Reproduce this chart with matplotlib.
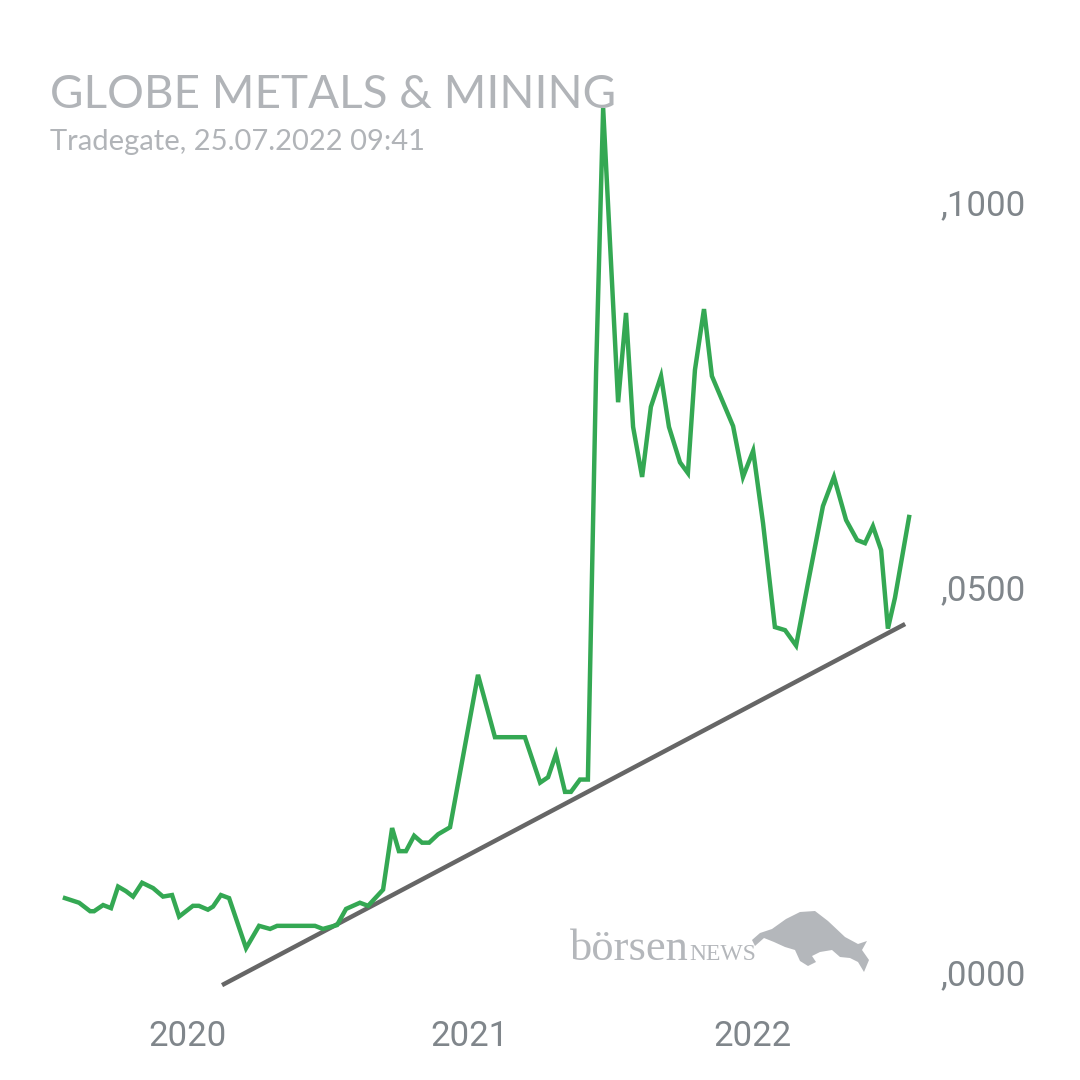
import matplotlib
matplotlib.use("Agg")
import matplotlib.pyplot as plt
from matplotlib.patches import Polygon
from matplotlib.transforms import offset_copy

# price history (decimal year, EUR)
dates = [2019.568, 2019.618, 2019.657, 2019.671, 2019.703, 2019.731, 2019.756, 2019.784,
         2019.809, 2019.841, 2019.880, 2019.915, 2019.947, 2019.972, 2020.021, 2020.042,
         2020.074, 2020.092, 2020.120, 2020.149, 2020.209, 2020.255, 2020.294, 2020.319,
         2020.453, 2020.481, 2020.531, 2020.563, 2020.612, 2020.641, 2020.694, 2020.726,
         2020.750, 2020.775, 2020.804, 2020.832, 2020.857, 2020.889, 2020.931, 2021.030,
         2021.090, 2021.196, 2021.250, 2021.278, 2021.306, 2021.338, 2021.359, 2021.391,
         2021.419, 2021.448, 2021.473, 2021.526, 2021.554, 2021.579, 2021.611, 2021.642,
         2021.678, 2021.706, 2021.745, 2021.773, 2021.798, 2021.830, 2021.858, 2021.933,
         2021.968, 2022.004, 2022.039, 2022.081, 2022.117, 2022.156, 2022.198, 2022.251,
         2022.290, 2022.333, 2022.372, 2022.400, 2022.428, 2022.457, 2022.481, 2022.506,
         2022.556]
prices = [0.0092, 0.0086, 0.0075, 0.0075, 0.0083, 0.0079, 0.0107, 0.0101,
          0.0094, 0.0112, 0.0105, 0.0094, 0.0096, 0.0068, 0.0082, 0.0082,
          0.0077, 0.0081, 0.0096, 0.0092, 0.0027, 0.0056, 0.0052, 0.0056,
          0.0056, 0.0052, 0.0057, 0.0078, 0.0086, 0.0082, 0.0103, 0.0183,
          0.0153, 0.0153, 0.0173, 0.0164, 0.0164, 0.0175, 0.0184, 0.0382,
          0.0301, 0.0301, 0.0242, 0.0249, 0.0279, 0.0230, 0.0230, 0.0246,
          0.0246, 0.0775, 0.1118, 0.0736, 0.0852, 0.0704, 0.0639, 0.0730,
          0.0770, 0.0704, 0.0658, 0.0644, 0.0778, 0.0857, 0.0770, 0.0705,
          0.0639, 0.0673, 0.0579, 0.0444, 0.0440, 0.0420, 0.0501, 0.0601,
          0.0639, 0.0583, 0.0557, 0.0553, 0.0575, 0.0544, 0.0442, 0.0482,
          0.0587]

trend_dates = [2020.124, 2022.542]
trend_prices = [-0.0021, 0.0448]

year_ticks = [2020, 2021, 2022]
year_labels = ["2020", "2021", "2022"]
price_ticks = [0.0, 0.05, 0.1]
price_labels = [",0000", ",0500", ",1000"]

title = "GLOBE METALS & MINING"
subtitle = "Tradegate, 25.07.2022 09:41"

fig = plt.figure(figsize=(10.8, 10.8), dpi=100)
ax = fig.add_axes([0, 0, 1, 1])
ax.set_xlim(2019.338, 2023.161)
ax.set_ylim(-0.01442, 0.12584)
ax.axis("off")

ax.plot(dates, prices, color="#34a853", lw=3.2, solid_joinstyle="miter", zorder=3)
ax.plot(trend_dates, trend_prices, color="#666666", lw=3.2, solid_capstyle="butt", zorder=2)

for x, lab in zip(year_ticks, year_labels):
    ax.text(x, 0.040, lab, transform=ax.get_xaxis_transform(), ha="center", va="center",
            fontsize=25, color="#80868b", family="Roboto")
ytrans = offset_copy(ax.get_yaxis_transform(), fig=fig, x=0, y=-7, units="dots")
for y, lab in zip(price_ticks, price_labels):
    ax.text(0.910, y, lab, transform=ytrans, ha="center", va="center",
            fontsize=25, color="#80868b", family="Roboto")

fig.text(0.046, 0.9, title, fontsize=33, color="#b1b4b8", family="Lato", va="baseline")
fig.text(0.046, 0.861, subtitle, fontsize=21, color="#b1b4b8", family="Lato", va="baseline")

# boersenNEWS logo
fig.text(570 / 1080, 1 - 960 / 1080, "börsen", fontsize=32, color="#b4b7bb",
         family="Liberation Serif", va="baseline")
fig.text(689 / 1080, 1 - 960 / 1080, "NEWS", fontsize=17, color="#b4b7bb",
         family="Liberation Serif", va="baseline")
bull = [(752, 940), (760, 933), (772, 929), (786, 919), (800, 912), (815, 911), (828, 921),
        (845, 937), (858, 944), (867, 941), (862, 950), (869, 960), (864, 972), (858, 962),
        (850, 958), (840, 957), (832, 950), (820, 952), (812, 956), (816, 962), (808, 966),
        (800, 961), (795, 950), (785, 947), (774, 942), (764, 938), (755, 946)]
bull = [(px / 1080, 1 - py / 1080) for px, py in bull]
fig.patches.append(Polygon(bull, closed=True, transform=fig.transFigure,
                           facecolor="#b4b7bb", edgecolor="none"))

fig.savefig("out.png", dpi=100, facecolor="white")
